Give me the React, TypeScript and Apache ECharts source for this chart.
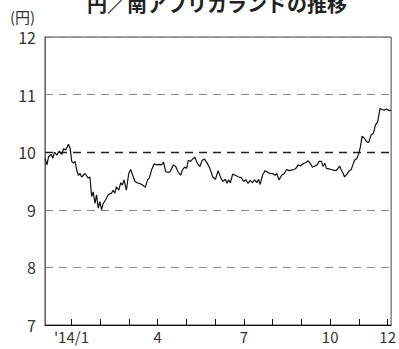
import React, { useEffect, useRef } from "react";
import * as echarts from "echarts";

const titleText = "円／南アフリカランドの推移";
const unitLabel = "(円)";
const monthTicks = [1, 2, 3, 4, 5, 6, 7, 8, 9, 10, 11, 12];
const monthLabels = [1, 4, 7, 10, 12];
const monthLabelText: Record<number, string> = { 1: "'14/1", 4: "4", 7: "7", 10: "10", 12: "12" };
const yTicks = [7, 8, 9, 10, 11, 12];

// x position in months (1 = start of Jan 2014)
const monthPos = [
  0.089, 0.147, 0.204, 0.296, 0.354, 0.412, 0.492, 0.573, 0.665, 0.723, 0.803, 0.895, 0.953,
  1.010, 1.068, 1.126, 1.183, 1.241, 1.298, 1.356, 1.414, 1.471, 1.586, 1.644, 1.702, 1.759,
  1.817, 1.874, 1.932, 1.989, 2.047, 2.105, 2.185, 2.278, 2.393, 2.450, 2.508, 2.565, 2.646,
  2.715, 2.773, 2.830, 2.911, 2.992, 3.061, 3.130, 3.210, 3.280, 3.360, 3.475, 3.567, 3.648,
  3.706, 3.786, 3.878, 3.971, 4.051, 4.132, 4.201, 4.282, 4.362, 4.431, 4.546, 4.627, 4.708,
  4.800, 4.857, 4.938, 5.007, 5.065, 5.145, 5.226, 5.295, 5.376, 5.468, 5.548, 5.629, 5.721,
  5.814, 5.917, 6.009, 6.101, 6.182, 6.263, 6.355, 6.412, 6.470, 6.528, 6.608, 6.700, 6.816,
  6.908, 6.988, 7.069, 7.138, 7.219, 7.299, 7.369, 7.449, 7.507, 7.564, 7.645, 7.737, 7.829,
  7.910, 7.990, 8.083, 8.140, 8.221, 8.313, 8.405, 8.486, 8.566, 8.659, 8.751, 8.808, 8.889,
  8.969, 9.062, 9.154, 9.234, 9.315, 9.384, 9.465, 9.545, 9.615, 9.695, 9.753, 9.811, 9.868,
  9.960, 10.041, 10.121, 10.213, 10.271, 10.329, 10.386, 10.444, 10.501, 10.582, 10.651,
  10.732, 10.789, 10.847, 10.928, 10.997, 11.054, 11.112, 11.192, 11.273, 11.342, 11.423,
  11.504, 11.573, 11.653, 11.734, 11.803, 11.884, 11.964, 12.056, 12.114,
];

// yen per rand
const rate = [
  9.89, 9.78, 9.92, 9.96, 9.90, 10.00, 9.95, 10.02, 9.96, 10.06, 10.04, 10.14, 10.07,
  9.84, 9.81, 9.84, 9.69, 9.60, 9.63, 9.57, 9.60, 9.63, 9.55, 9.57, 9.23, 9.31,
  9.11, 9.26, 9.03, 9.14, 9.00, 9.11, 9.17, 9.26, 9.29, 9.34, 9.29, 9.40, 9.34,
  9.47, 9.43, 9.52, 9.34, 9.63, 9.70, 9.60, 9.49, 9.47, 9.46, 9.43, 9.39, 9.52,
  9.55, 9.69, 9.80, 9.78, 9.79, 9.78, 9.83, 9.66, 9.65, 9.66, 9.78, 9.75, 9.66,
  9.60, 9.69, 9.74, 9.72, 9.86, 9.84, 9.89, 9.91, 9.81, 9.75, 9.86, 9.88, 9.81,
  9.72, 9.57, 9.53, 9.68, 9.57, 9.49, 9.53, 9.46, 9.52, 9.47, 9.62, 9.60, 9.57,
  9.56, 9.49, 9.52, 9.46, 9.51, 9.47, 9.52, 9.47, 9.53, 9.44, 9.60, 9.68, 9.65,
  9.63, 9.63, 9.60, 9.63, 9.52, 9.60, 9.63, 9.70, 9.68, 9.69, 9.70, 9.72, 9.78,
  9.76, 9.80, 9.82, 9.85, 9.80, 9.74, 9.76, 9.78, 9.84, 9.84, 9.75, 9.81, 9.72,
  9.71, 9.70, 9.69, 9.68, 9.72, 9.76, 9.69, 9.64, 9.57, 9.62, 9.67,
  9.70, 9.78, 9.86, 9.89, 9.98, 10.10, 10.28, 10.24, 10.18, 10.17, 10.30,
  10.33, 10.47, 10.53, 10.76, 10.74, 10.73, 10.75, 10.72, 10.73,
];

const FONT = "'Noto Sans CJK JP', 'Noto Sans', sans-serif";

export default function App() {
  const ref = useRef<HTMLDivElement>(null);
  useEffect(() => {
    if (!ref.current) return;
    document.body.style.margin = "0";
    const chart = echarts.init(ref.current, undefined, { renderer: "svg" });
    const data = monthPos.map((m, i) => [m, rate[i]]);
    chart.setOption({
      animation: false,
      backgroundColor: "#fff",
      grid: {
        left: 45,
        right: 6,
        top: 37,
        bottom: 24,
        show: true,
        borderColor: "#444",
        borderWidth: 1,
      },
      graphic: [
        {
          type: "text",
          left: 10,
          top: 9,
          style: { text: unitLabel, font: `15px ${FONT}`, fill: "#333" },
        },
        {
          type: "text",
          x: 217,
          y: -7,
          style: {
            text: titleText,
            font: `bold 20px ${FONT}`,
            fill: "#222",
            textAlign: "center",
            textVerticalAlign: "top",
          },
        },
      ],
      xAxis: {
        type: "value",
        min: 0.08,
        max: 12.12,
        splitLine: { show: false },
        axisLine: { show: true, onZero: false, lineStyle: { color: "#111", width: 1 } },
        axisTick: {
          show: true,
          inside: true,
          length: 6,
          customValues: monthTicks,
          lineStyle: { color: "#111" },
        },
        axisLabel: {
          customValues: monthLabels,
          formatter: (v: number) => monthLabelText[Math.round(v)] ?? "",
          color: "#333",
          fontSize: 15,
          fontFamily: FONT,
          margin: 4,
        },
      },
      yAxis: {
        type: "value",
        min: 7,
        max: 12,
        interval: 1,
        axisLine: { show: true, lineStyle: { color: "#666", width: 1 } },
        axisTick: { show: false },
        axisLabel: {
          customValues: yTicks,
          color: "#333",
          fontSize: 16,
          fontFamily: FONT,
          margin: 9,
        },
        splitLine: {
          show: true,
          lineStyle: { color: "#888", type: [8, 6], width: 1 },
        },
      },
      series: [
        {
          type: "line",
          data,
          symbol: "none",
          lineStyle: { color: "#111", width: 1.2 },
          markLine: {
            silent: true,
            symbol: "none",
            label: { show: false },
            lineStyle: { color: "#222", type: [8, 6], width: 1.4 },
            data: [{ yAxis: 10 }],
          },
          z: 5,
        },
      ],
    });
    return () => chart.dispose();
  }, []);
  return <div ref={ref} style={{ width: 399, height: 349, position: "absolute", left: 0, top: 0 }} />;
}
